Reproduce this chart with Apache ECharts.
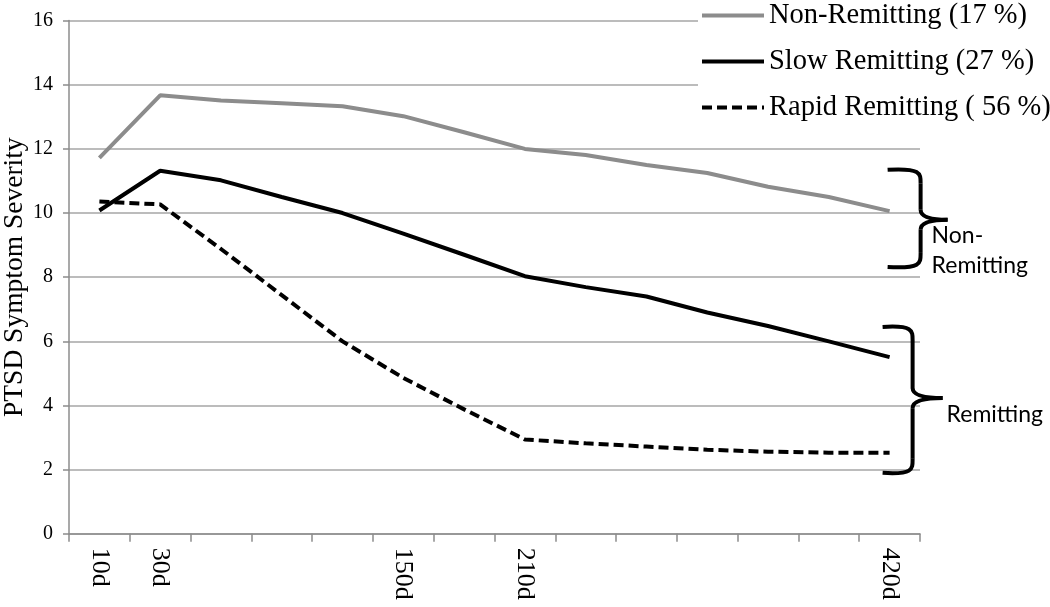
<!DOCTYPE html>
<html>
<head>
<meta charset="utf-8">
<script src="https://cdn.jsdelivr.net/npm/echarts@6/dist/echarts.min.js"></script>
<style>
html,body{margin:0;padding:0;background:#fff;}
#chart{width:1050px;height:607px;}
</style>
</head>
<body>
<div id="chart"></div>
<script>
// ---- data ----
const categories = ['10d','30d','','','','150d','','210d','','','','','','420d'];
const nonRemitting   = [11.72, 13.67, 13.51, 13.42, 13.33, 13.02, 12.52, 12.0, 11.81, 11.5, 11.25, 10.82, 10.5, 10.06];
const slowRemitting  = [10.08, 11.32, 11.02, 10.5, 10.0, 9.36, 8.7, 8.03, 7.69, 7.4, 6.9, 6.48, 6.0, 5.51];
const rapidRemitting = [10.36, 10.27, 8.88, 7.44, 6.0, 4.86, 3.88, 2.94, 2.82, 2.72, 2.62, 2.56, 2.53, 2.53];
const seriesNames = ['Non-Remitting (17 %)', 'Slow Remitting (27 %)', 'Rapid Remitting ( 56 %)'];
const yAxisTitle = 'PTSD Symptom Severity';
// annotation braces: [top value, middle value, bottom value]
const braceNon = [11.35, 9.79, 8.32];
const braceRem = [6.45, 4.23, 1.9];
const braceNonLabel = ['Non-', 'Remitting'];
const braceRemLabel = ['Remitting'];

const serif = '"Liberation Serif", "Times New Roman", serif';
const sans = 'Lato, "Open Sans", sans-serif';

const chart = echarts.init(document.getElementById('chart'), null, {renderer: 'canvas'});

const option = {
  animation: false,
  backgroundColor: '#fff',
  grid: {left: 69, right: 130, top: 20.6, bottom: 73.2, containLabel: false, outerBoundsMode: 'none'},
  legend: {
    orient: 'vertical',
    left: 698,
    top: 1,
    padding: [0, 20, 14, 2],
    backgroundColor: '#fff',
    itemWidth: 62,
    itemHeight: 14,
    itemGap: 17,
    itemStyle: {opacity: 0},
    lineStyle: {width: 4},
    textStyle: {fontFamily: serif, fontSize: 28.5, color: '#000', lineHeight: 29},
    data: seriesNames
  },
  xAxis: {
    type: 'category',
    data: categories,
    boundaryGap: true,
    axisLine: {lineStyle: {color: '#8c8c8c', width: 1.5}},
    axisTick: {show: true, length: 8, interval: 0, lineStyle: {color: '#8c8c8c', width: 1.5}},
    axisLabel: {interval: 0, rotate: -90, margin: 14, fontFamily: serif, fontSize: 26, color: '#000'},
    splitLine: {show: false}
  },
  yAxis: {
    type: 'value',
    min: 0, max: 16, interval: 2,
    name: yAxisTitle,
    nameLocation: 'middle',
    nameGap: 40,
    nameMoveOverlap: false,
    nameTextStyle: {fontFamily: serif, fontSize: 27.5, color: '#000'},
    axisLine: {show: true, lineStyle: {color: '#8c8c8c', width: 1.5}},
    axisTick: {show: true, length: 6, lineStyle: {color: '#8c8c8c', width: 1.5}},
    axisLabel: {margin: 16, fontFamily: serif, fontSize: 20, color: '#000'},
    splitLine: {lineStyle: {color: '#a6a6a6', width: 1.5}}
  },
  series: [
    {name: seriesNames[0], type: 'line', data: nonRemitting, symbol: 'none', z: 3,
     lineStyle: {color: '#8c8c8c', width: 4}, itemStyle: {color: '#8c8c8c'}},
    {name: seriesNames[1], type: 'line', data: slowRemitting, symbol: 'none', z: 4,
     lineStyle: {color: '#000', width: 4}, itemStyle: {color: '#000'}},
    {name: seriesNames[2], type: 'line', data: rapidRemitting, symbol: 'none', z: 5,
     lineStyle: {color: '#000', width: 4, type: [10, 5]}, itemStyle: {color: '#000'}}
  ]
};
chart.setOption(option);

const braceStyle = {fill: 'none', stroke: '#000', lineWidth: 4};
function braceElements(xl, xv, xt, yt, ym, yb) {
  return [
    {type: 'bezierCurve', shape: {x1: xl, y1: yt, cpx1: xv + 1, cpy1: yt - 2, cpx2: xv, cpy2: yt + 4, x2: xv, y2: yt + 14}, style: braceStyle, z: 10},
    {type: 'line', shape: {x1: xv, y1: yt + 14, x2: xv, y2: ym - 10}, style: braceStyle, z: 10},
    {type: 'bezierCurve', shape: {x1: xv, y1: ym - 10, cpx1: xv, cpy1: ym, x2: xt, y2: ym}, style: braceStyle, z: 10},
    {type: 'bezierCurve', shape: {x1: xt, y1: ym, cpx1: xv, cpy1: ym, x2: xv, y2: ym + 10}, style: braceStyle, z: 10},
    {type: 'line', shape: {x1: xv, y1: ym + 10, x2: xv, y2: yb - 14}, style: braceStyle, z: 10},
    {type: 'bezierCurve', shape: {x1: xv, y1: yb - 14, cpx1: xv, cpy1: yb - 4, cpx2: xv + 1, cpy2: yb + 2, x2: xl, y2: yb}, style: braceStyle, z: 10}
  ];
}

const lastIdx = categories.length - 1;
function py(v) { return chart.convertToPixel({yAxisIndex: 0}, v); }
const xLast = chart.convertToPixel({xAxisIndex: 0}, lastIdx);

const g1 = braceNon.map(py);
const g2 = braceRem.map(py);

const graphics = []
  .concat(braceElements(xLast - 2, xLast + 31, xLast + 58, g1[0], g1[1], g1[2]))
  .concat(braceElements(xLast - 7, xLast + 23, xLast + 53, g2[0], g2[1], g2[2]))
  .concat([
    {type: 'text', x: xLast + 42, y: g1[1] + 1,
     style: {text: braceNonLabel.join('\n'), font: '23px ' + sans, fill: '#000', lineHeight: 30}, z: 10},
    {type: 'text', x: xLast + 57, y: g2[1] + 1,
     style: {text: braceRemLabel.join('\n'), font: '23px ' + sans, fill: '#000', lineHeight: 30}, z: 10}
  ]);
chart.setOption({graphic: graphics});
</script>
</body>
</html>
